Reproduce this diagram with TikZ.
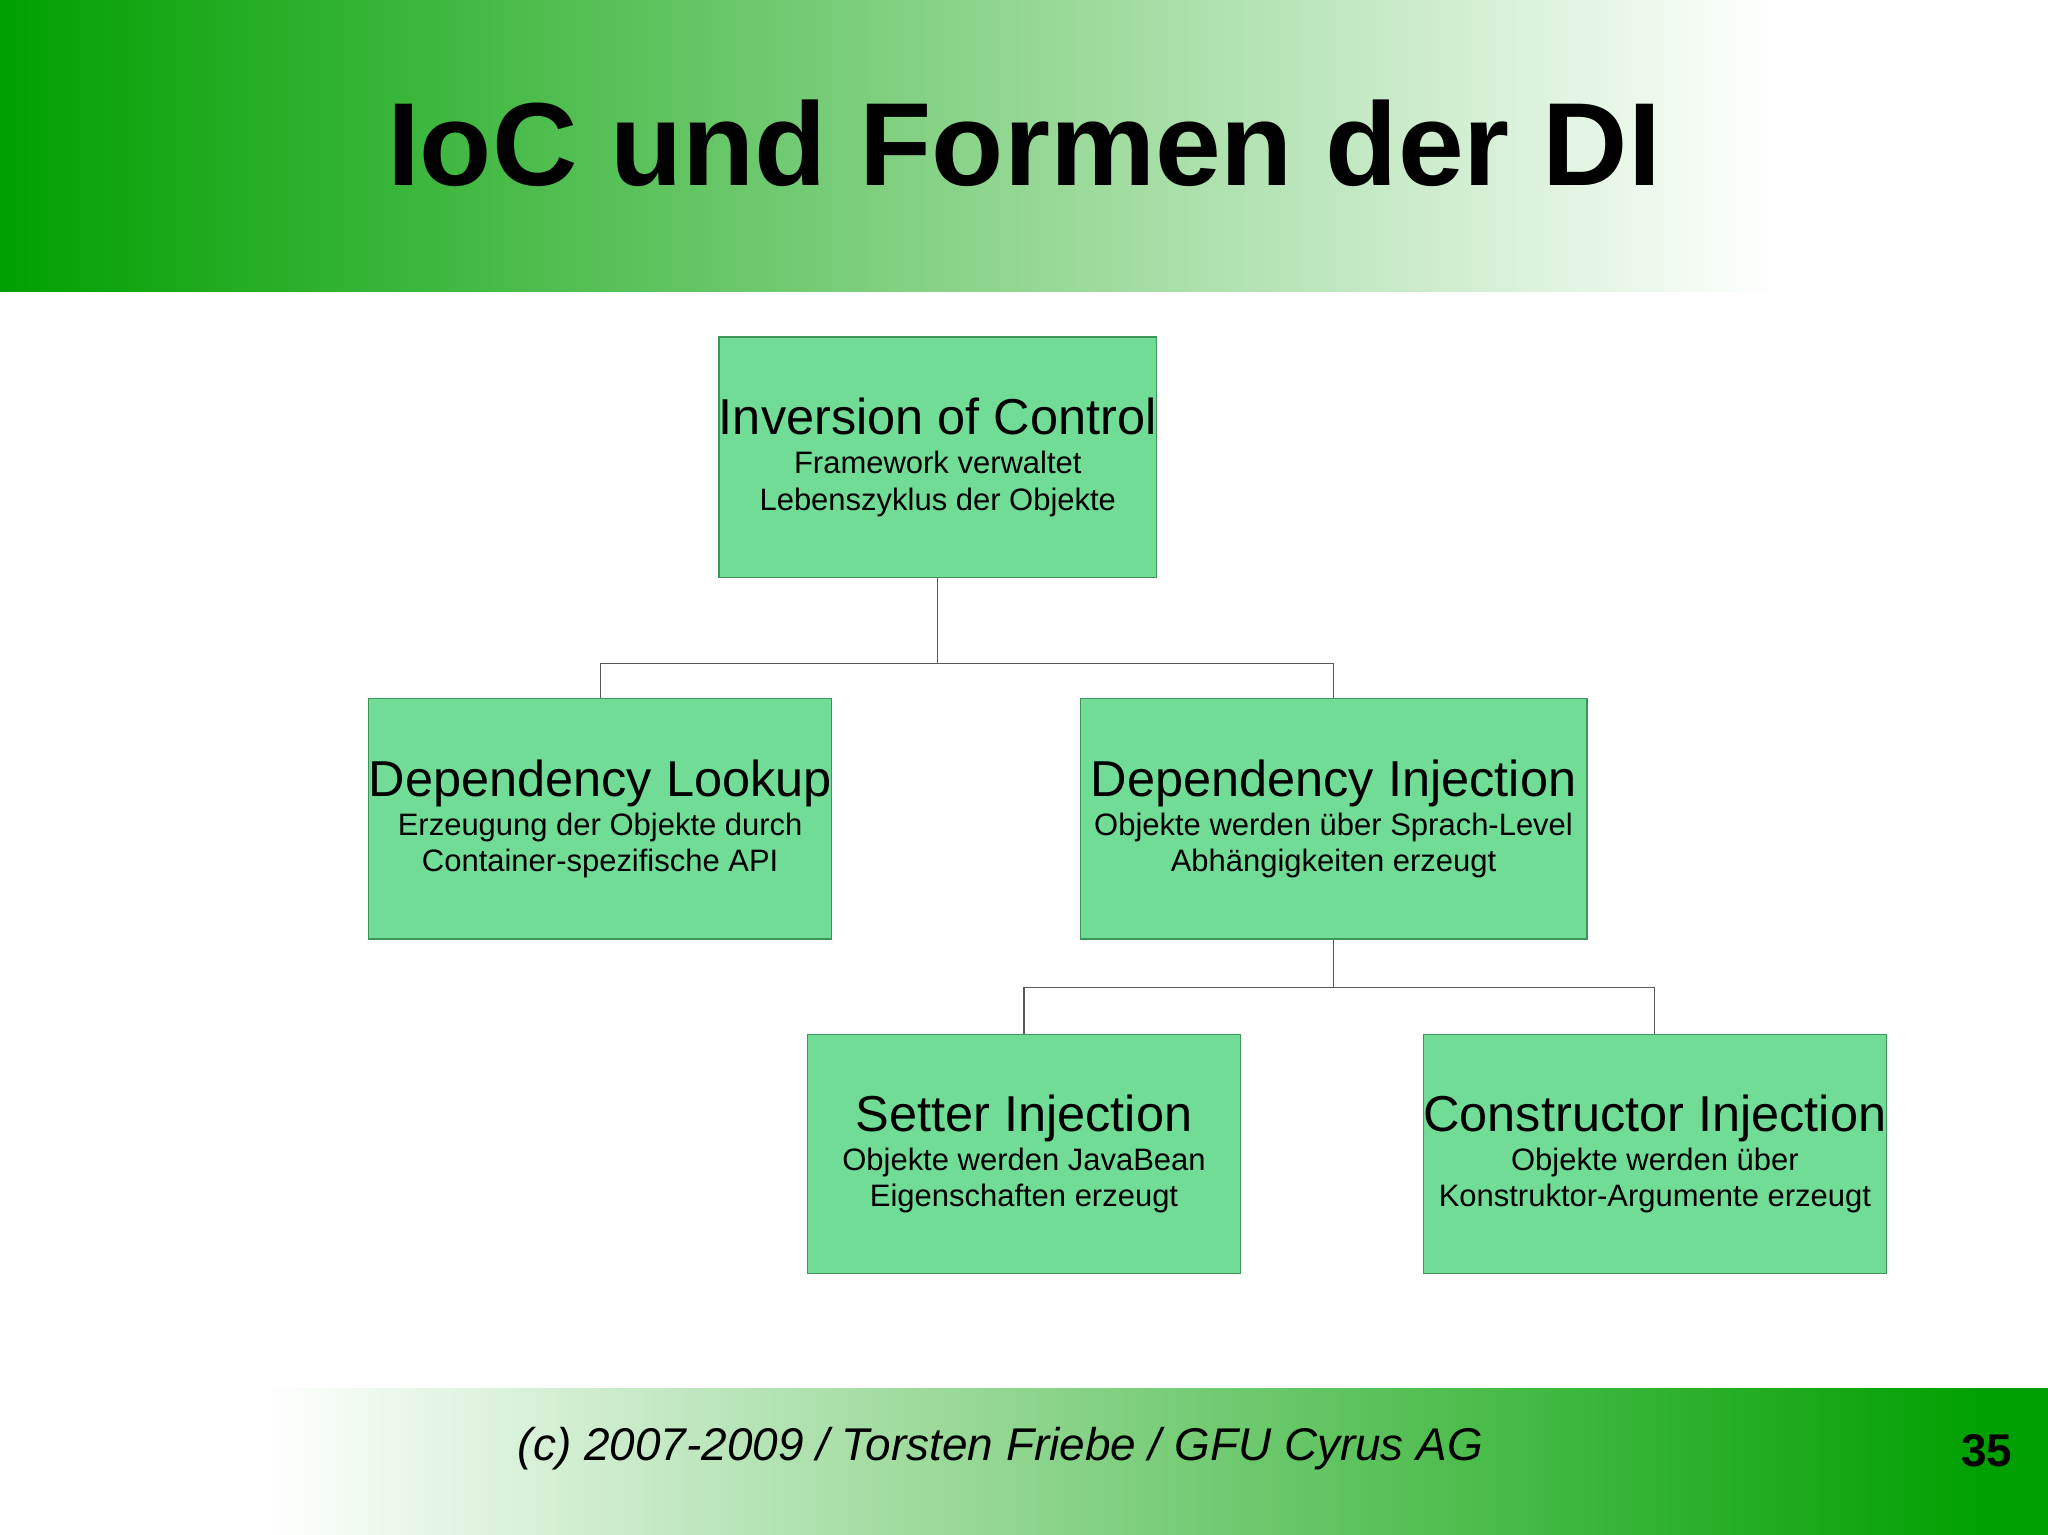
\documentclass[tikz,border=0pt]{standalone}
\usepackage{fontspec}
\setmainfont{Liberation Sans}
\definecolor{hg}{RGB}{0,160,0}
\definecolor{bx}{RGB}{112,220,150}
\definecolor{bd}{RGB}{60,150,90}
\tikzset{
 box/.style={draw=bd,fill=bx,line width=0.6pt,inner sep=0pt,align=center,font=\fontsize{13.5}{16}\selectfont},
 link/.style={draw=gray!70!black,line width=0.5pt}
}
\newcommand{\bt}[1]{{\fontsize{22}{27}\selectfont #1}\\[1pt]}
\begin{document}
\begin{tikzpicture}[x=0.02cm,y=-0.02cm]
\useasboundingbox (0,0) rectangle (1568,1175);
\fill[white] (0,0) rectangle (1568,1175);
\shade[left color=hg,right color=white] (0,0) rectangle (1360,223);
\shade[left color=white,right color=hg] (200,1063) rectangle (1520,1175);
\fill[hg] (1519,1063) rectangle (1568,1175);
\node[font=\fontsize{51.5}{60}\selectfont\bfseries] (title) at (784,110) {IoC und Formen der DI};
\node[font=\fontsize{20}{24}\selectfont\itshape] (foot) at (766,1109) {(c) 2007-2009 / Torsten Friebe / GFU Cyrus AG};
\node[font=\fontsize{20}{24}\selectfont\bfseries] (num) at (1521,1111) {35};

\node[box,minimum width=6.64cm,minimum height=3.68cm] (ioc) at (718,350) {\bt{Inversion of Control}Framework verwaltet\\ Lebenszyklus der Objekte};
\node[box,minimum width=6.74cm,minimum height=3.68cm] (dl) at (459.5,627) {\bt{Dependency Lookup}Erzeugung der Objekte durch\\ Container-spezifische API};
\node[box,minimum width=7.76cm,minimum height=3.68cm] (di) at (1021,627) {\bt{Dependency Injection}Objekte werden über Sprach-Level\\ Abhängigkeiten erzeugt};
\node[box,minimum width=6.64cm,minimum height=3.66cm] (si) at (784,883.5) {\bt{Setter Injection}Objekte werden JavaBean\\ Eigenschaften erzeugt};
\node[box,minimum width=6.96cm,minimum height=3.66cm] (ci) at (1267,883.5) {\bt{Constructor Injection}Objekte werden über\\ Konstruktor-Argumente erzeugt};

\coordinate (j1) at (718,508);
\coordinate (j2) at (1021,756);
\draw[link] (ioc.south) -- (j1) -| (dl.north);
\draw[link] (j1) -| (di.north);
\draw[link] (di.south) -- (j2) -| (si.north);
\draw[link] (j2) -| (ci.north);
\end{tikzpicture}
\end{document}
